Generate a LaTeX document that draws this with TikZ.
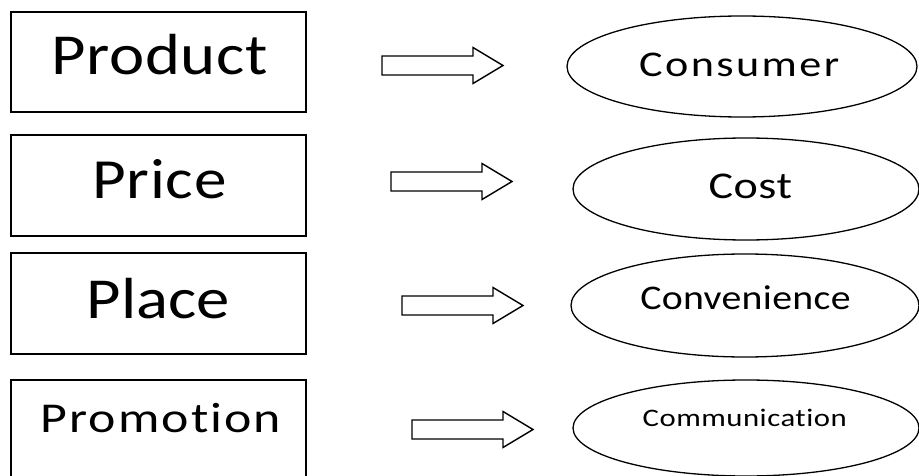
\documentclass[tikz,border=0pt]{standalone}
\usepackage{fontspec}
\setmainfont{Carlito}[Ligatures=NoCommon]
\usetikzlibrary{shapes.geometric}
\tikzset{
  box/.style={draw=black, line width=1.6pt, rectangle, minimum width=295pt, inner sep=0pt, outer sep=0pt},
  oval/.style={draw=black, line width=1.3pt, ellipse, inner sep=0pt, outer sep=0pt},
  lbl/.style={anchor=base, inner sep=0pt, text=black},
  blockarrow/.style={draw=black, line width=1.4pt, line join=miter, fill=white}
}
\newcommand{\lsfont}[3]{\fontsize{#1}{#1}\selectfont\addfontfeatures{FakeStretch=#2, LetterSpace=#3}}
\newcommand{\myarrow}[2]{%
  \draw[blockarrow] (#1,#2-9.5) -- (#1+91,#2-9.5) -- (#1+91,#2-18) -- (#1+121,#2)
    -- (#1+91,#2+18) -- (#1+91,#2+9.5) -- (#1,#2+9.5) -- cycle;}
\begin{document}
\begin{tikzpicture}[x=1pt, y=-1pt]
\useasboundingbox (0,0) rectangle (919,476);
\fill[white] (0,0) rectangle (919,476);
% left boxes
\node[box, minimum height=100pt] (bprod) at (158.5,62) {};
\node[box, minimum height=101pt] (bprice) at (158.5,185.5) {};
\node[box, minimum height=101pt] (bplace) at (158.5,303.5) {};
\node[box, minimum height=101pt] (bpromo) at (158.5,430.5) {};
\node[lbl, font=\lsfont{58}{1.15}{1.3}] (tprod) at (159.5,75) {Product};
\node[lbl, font=\lsfont{56.7}{1.15}{1.1}] (tprice) at (159.5,199) {Price};
\node[lbl, font=\lsfont{58}{1.15}{0}] (tplace) at (158.5,318) {Place};
\node[lbl, font=\lsfont{42.5}{1.22}{4.8}] (tpromo) at (161,432) {Promotion};
% arrows
\myarrow{382}{65.5}
\myarrow{391}{181.5}
\myarrow{402}{305.5}
\myarrow{412}{429.5}
% ellipses
\node[oval, minimum width=350pt, minimum height=101pt] (econs) at (742,66.5) {};
\node[oval, minimum width=346pt, minimum height=102pt] (ecost) at (746,189) {};
\node[oval, minimum width=348pt, minimum height=103pt] (econv) at (745,305.5) {};
\node[oval, minimum width=346pt, minimum height=96pt] (ecomm) at (746,428) {};
\node[lbl, font=\lsfont{36.2}{1.22}{6.7}] (tcons) at (739.2,77) {Consumer};
\node[lbl, font=\lsfont{37.8}{1.22}{1.4}] (tcost) at (750.3,199) {Cost};
\node[lbl, font=\lsfont{34.6}{1.15}{0.9}] (tconv) at (745.5,309) {Convenience};
\node[lbl, font=\lsfont{25.2}{1.22}{2}] (tcomm) at (744.75,426) {Communication};
\end{tikzpicture}
\end{document}
